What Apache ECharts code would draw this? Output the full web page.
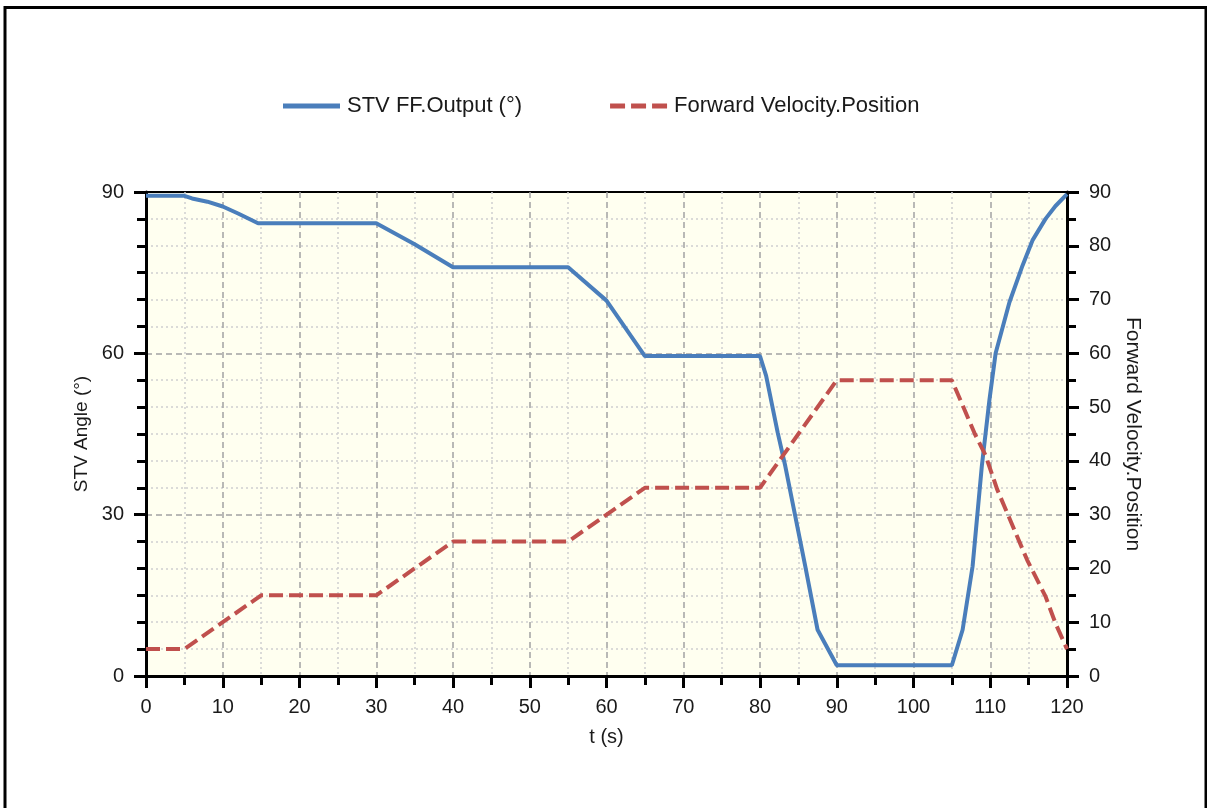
<!DOCTYPE html>
<html>
<head>
<meta charset="utf-8">
<title>STV FF.Output / Forward Velocity.Position</title>
<script src="https://cdn.jsdelivr.net/npm/echarts@6/dist/echarts.min.js"></script>
<style>
  html, body { margin: 0; padding: 0; background: #ffffff; }
  #chart { width: 1207px; height: 808px; }
</style>
</head>
<body>
<div id="chart"></div>
<script>
// Time stamps (s) and STV feed-forward output angle (deg)
const stvTime  = [0, 5, 6, 8, 10, 12, 14.6, 30, 35, 40, 55, 60, 65, 80, 80.8, 82.3, 83.3, 85.9, 87.5, 90, 105, 106.4, 107.7, 108.9, 109.9, 110.7, 112.5, 114.2, 115.5, 117.2, 118.5, 120];
const stvAngle = [89.3, 89.3, 88.8, 88.2, 87.3, 86, 84.2, 84.2, 80.3, 76, 76, 69.8, 59.5, 59.5, 55.8, 45.3, 39, 20.4, 8.6, 2, 2, 8.6, 20.4, 39, 51.4, 60, 69.5, 76.3, 81, 85, 87.4, 89.6];

// Time stamps (s) and forward velocity position
const fwdTime  = [0, 5, 15, 30, 40, 55, 65, 80, 90, 105, 108, 109.4, 110.9, 114.8, 117.2, 118.5, 120];
const fwdPos   = [5, 5, 15, 15, 25, 25, 35, 35, 55, 55, 45, 41, 34.7, 21.6, 14.8, 9.8, 5];

// Axis ranges
const tRange     = [0, 120];
const angleRange = [0, 90];
const posRange   = [0, 90];

const seriesNames = ['STV FF.Output (°)', 'Forward Velocity.Position'];
const axisNames   = { x: 't (s)', left: 'STV Angle (°)', right: 'Forward Velocity.Position' };

const pair = (xs, ys) => xs.map((x, i) => [x, ys[i]]);

const FONT = '"Liberation Sans", Arial, sans-serif';
const TEXT = '#1a1a1a';
const BLUE = '#4A7EBB';
const RED  = '#C0504D';

// legend keys: a solid bar and a three-dash bar
const SOLID_KEY  = 'path://M0,0H57V5H0Z';
const DASHED_KEY = 'path://M0,0H15V5H0Z M21,0H36V5H21Z M42,0H57V5H42Z';

const majorSplit = { show: true, showMaxLine: false, lineStyle: { color: '#a3a3a3', width: 1.5, type: [6, 4] } };
const minorSplit = { show: true, lineStyle: { color: '#cfcfcf', width: 1.5, type: [2, 3] } };
const axisLine   = { show: true, onZero: false, lineStyle: { color: '#000', width: 3 } };
const tick       = { show: true, inside: false, length: 12, lineStyle: { color: '#000', width: 3 } };
const minor      = (n) => ({ show: true, splitNumber: n, length: 9, lineStyle: { color: '#000', width: 3 } });
const labelStyle = { color: TEXT, fontFamily: FONT, fontSize: 20 };
const nameStyle  = (size) => ({ color: TEXT, fontFamily: FONT, fontSize: size });

const chart = echarts.init(document.getElementById('chart'), null, { renderer: 'canvas' });

chart.setOption({
  animation: false,
  backgroundColor: '#ffffff',
  textStyle: { fontFamily: FONT },
  graphic: [{
    type: 'rect',
    shape: { x: 5, y: 7.5, width: 1201, height: 830 },
    style: { fill: 'none', stroke: '#000', lineWidth: 3 },
    silent: true, z: 100
  }],
  legend: {
    top: 90,
    left: 278,
    itemWidth: 57,
    itemHeight: 5,
    itemGap: 88,
    textStyle: { color: TEXT, fontFamily: FONT, fontSize: 22, padding: [0, 0, 0, 2] },
    data: [
      { name: seriesNames[0], icon: SOLID_KEY },
      { name: seriesNames[1], icon: DASHED_KEY }
    ]
  },
  grid: {
    left: 146, right: 140, top: 192, bottom: 132,
    show: true, backgroundColor: '#FFFFF0', borderColor: '#000', borderWidth: 2,
    containLabel: false
  },
  xAxis: [{
    type: 'value',
    min: tRange[0], max: tRange[1], interval: 10,
    name: axisNames.x, nameLocation: 'middle', nameGap: 51,
    nameTextStyle: nameStyle(20),
    axisLine: axisLine,
    axisTick: tick,
    minorTick: minor(2),
    axisLabel: Object.assign({ margin: 21 }, labelStyle),
    splitLine: majorSplit,
    minorSplitLine: minorSplit
  }, {
    // top frame edge of the plot area
    type: 'value', position: 'top',
    min: tRange[0], max: tRange[1],
    axisLine: { show: true, lineStyle: { color: '#000', width: 2 } },
    axisTick: { show: false }, axisLabel: { show: false },
    splitLine: { show: false }
  }],
  yAxis: [{
    type: 'value', position: 'left',
    min: angleRange[0], max: angleRange[1], interval: 30,
    name: axisNames.left, nameLocation: 'middle', nameGap: 50,
    nameTextStyle: nameStyle(19),
    axisLine: axisLine,
    axisTick: tick,
    minorTick: minor(6),
    axisLabel: Object.assign({ margin: 22 }, labelStyle),
    splitLine: majorSplit,
    minorSplitLine: minorSplit
  }, {
    type: 'value', position: 'right',
    min: posRange[0], max: posRange[1], interval: 10,
    name: axisNames.right, nameLocation: 'middle', nameGap: 50, nameRotate: -90,
    nameTextStyle: nameStyle(21),
    axisLine: axisLine,
    axisTick: tick,
    minorTick: minor(2),
    axisLabel: Object.assign({ margin: 22 }, labelStyle),
    splitLine: { show: false },
    minorSplitLine: { show: false }
  }],
  series: [{
    name: seriesNames[0],
    type: 'line',
    yAxisIndex: 0,
    symbol: 'none',
    data: pair(stvTime, stvAngle),
    lineStyle: { color: BLUE, width: 4 },
    itemStyle: { color: BLUE },
    z: 3
  }, {
    name: seriesNames[1],
    type: 'line',
    yAxisIndex: 1,
    symbol: 'none',
    data: pair(fwdTime, fwdPos),
    lineStyle: { color: RED, width: 4, type: [14, 6] },
    itemStyle: { color: RED },
    z: 4
  }]
});
</script>
</body>
</html>
